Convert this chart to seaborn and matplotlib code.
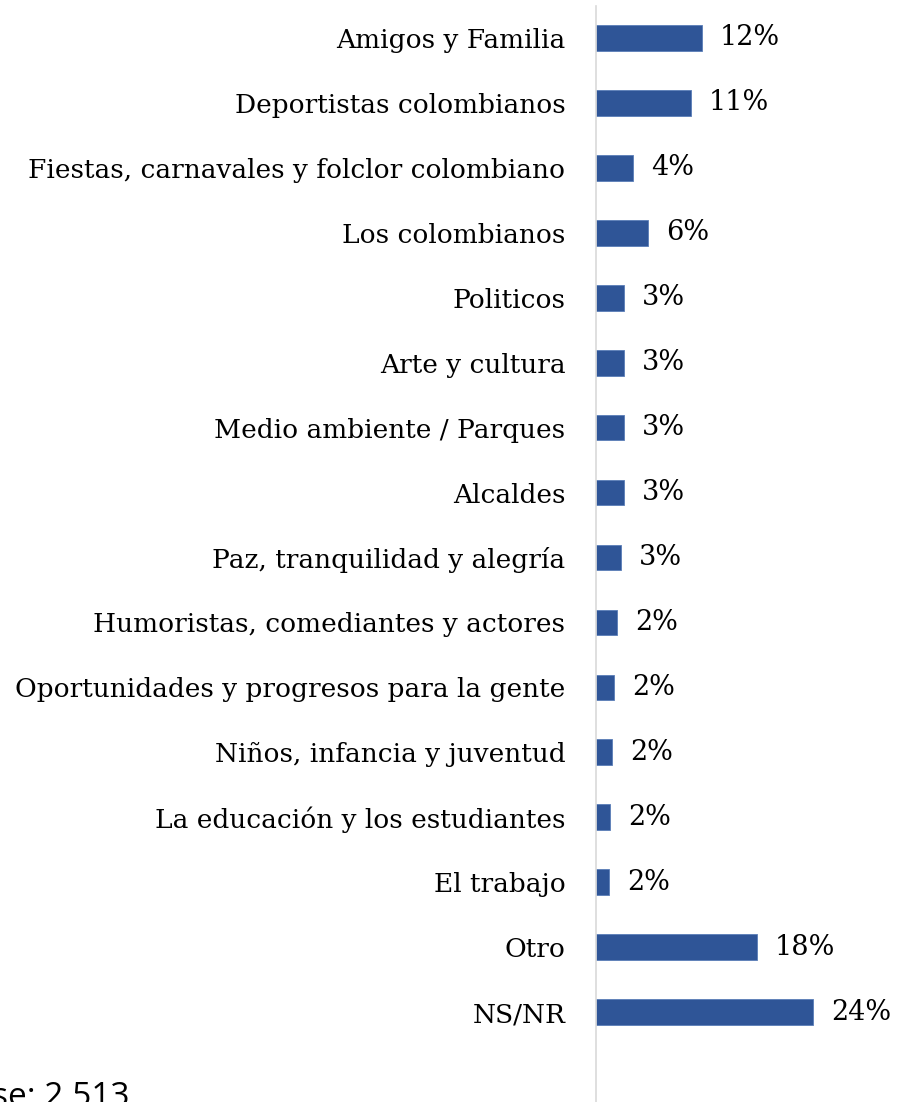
import matplotlib
matplotlib.use('Agg')
import matplotlib.pyplot as plt
import seaborn as sns
import pandas as pd

# Datos
categorias = [
    'Amigos y Familia',
    'Deportistas colombianos',
    'Fiestas, carnavales y folclor colombiano',
    'Los colombianos',
    'Politicos',
    'Arte y cultura',
    'Medio ambiente / Parques',
    'Alcaldes',
    'Paz, tranquilidad y alegría',
    'Humoristas, comediantes y actores',
    'Oportunidades y progresos para la gente',
    'Niños, infancia y juventud',
    'La educación y los estudiantes',
    'El trabajo',
    'Otro',
    'NS/NR',
]
valores = [11.7, 10.5, 4.1, 5.8, 3.1, 3.05, 3.05, 3.05, 2.8, 2.3, 2.0, 1.8, 1.6, 1.4, 17.8, 24.0]
etiquetas = ['12%', '11%', '4%', '6%', '3%', '3%', '3%', '3%', '3%', '2%', '2%', '2%', '2%', '2%', '18%', '24%']
base_texto = 'Base: 2.513'

df = pd.DataFrame({'categoria': categorias, 'valor': valores})

sns.set_theme(style='white')
plt.rcParams['font.family'] = ['DejaVu Serif']

W, H = 899, 1102
fig = plt.figure(figsize=(W / 100, H / 100), dpi=100)
x0 = 596
top = 5.5
ax = fig.add_axes([x0 / W, 0, 1 - x0 / W, 1 - top / H])

ax = sns.barplot(data=df, y='categoria', x='valor', orient='h', color='#2F5597',
                 width=0.395, edgecolor='#5A7DB8', linewidth=0.6, ax=ax, saturation=1)

ax.bar_label(ax.containers[0], labels=etiquetas, padding=13, fontsize=19.5, color='black')

ax.set_xlim(0, (W - x0) / 9.04)
ax.set_ylim(15.5 + 57.5 / 65, -0.5)
ax.set_xlabel('')
ax.set_ylabel('')
ax.set_xticks([])
ax.tick_params(axis='y', length=0, pad=22, labelsize=19, labelcolor='black')
for s in ['top', 'right', 'bottom']:
    ax.spines[s].set_visible(False)
ax.spines['left'].set_color('#D9D9D9')
ax.spines['left'].set_linewidth(1.2)

fig.text(130 / W, 1 - 1106 / H, base_texto, ha='right', va='baseline',
         fontsize=24, family=['Open Sans'], color='black')

fig.savefig('out.png', dpi=100)
